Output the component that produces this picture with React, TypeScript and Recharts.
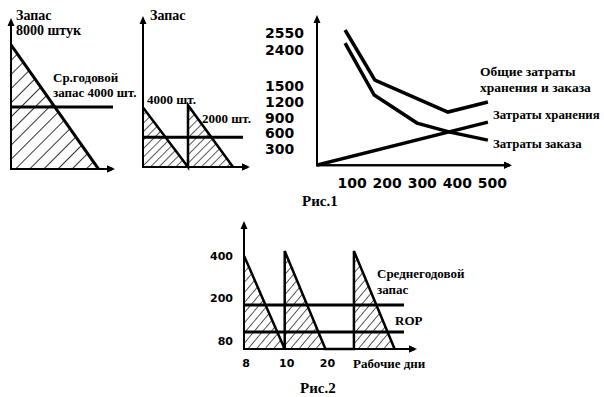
import React from 'react';
import { ComposedChart, Area, Line, XAxis, YAxis, ReferenceLine } from 'recharts';

// ---- Fig.1 left: one order of 8000 units ----
const stockA = [{ t: 0, q: 8000 }, { t: 6, q: 0 }];
const avgA = 4000;

// ---- Fig.1 middle: two orders of 4000 units ----
const stockB = [{ t: 0, q: 4000 }, { t: 3, q: 0 }, { t: 3, q: 4150 }, { t: 6, q: 0 }];
const avgB = 2000;

// ---- Fig.1 right: costs vs order size ----
const totalCost = [{ x: 80, y: 2554 }, { x: 165, y: 1608 }, { x: 373, y: 1003 }, { x: 487, y: 1192 }];
const orderCost = [{ x: 80, y: 2308 }, { x: 163, y: 1324 }, { x: 285, y: 795 }, { x: 379, y: 624 }, { x: 487, y: 473 }];
const holdCost = [{ x: 0, y: 0 }, { x: 487, y: 813 }];
const costTicks = [300, 600, 900, 1200, 1500, 2400, 2550];
const qtyTicks = [100, 200, 300, 400, 500];

// ---- Fig.2: stock over working days ----
const stockD = [
  { d: 0, q: 400 }, { d: 10, q: 0 }, { d: 10, q: 420 }, { d: 20, q: 0 },
  { d: 27, q: 0 }, { d: 27, q: 420 }, { d: 37, q: 0 },
];
const avgD = 189;
const ropD = 73;
const dayTicks = [0, 10, 20];
const dayLabels = ['8', '10', '20'];
const stockTicks = [80, 200, 400];

// axis extents (data units)
const axisA = [{ t: 0, q: 0 }, { t: 7, q: 0 }];
const axisB = [{ t: 0, q: 0 }, { t: 7, q: 0 }];
const axisC = [{ x: 0, y: 0 }, { x: 550, y: 0 }];
const axisD = [{ d: 0, q: 0 }, { d: 42, q: 0 }];

const BLACK = '#000';
const SANS = "'DejaVu Sans', sans-serif";
const SERIF = "'Liberation Serif', 'Times New Roman', serif";

const arrowHead = (x1: number, y1: number, x2: number, y2: number) => {
  const len = Math.hypot(x2 - x1, y2 - y1) || 1;
  const ux = (x2 - x1) / len;
  const uy = (y2 - y1) / len;
  const tx = x2 + ux * 2;
  const ty = y2 + uy * 2;
  const bx = tx - ux * 8;
  const by = ty - uy * 8;
  const px = -uy * 3.5;
  const py = ux * 3.5;
  return `${tx},${ty} ${bx + px},${by + py} ${bx - px},${by - py}`;
};

// both axes drawn from the vertical axis segment: origin (x1,y1), top (x2,y2)
const makeAxes = (xLen: number) => (p: any) => {
  const x1 = Number(p.x1);
  const y1 = Number(p.y1);
  const x2 = Number(p.x2);
  const y2 = Number(p.y2);
  const xe = x1 + xLen;
  return (
    <g>
      <polygon points={`${x1 - 1},${y1 + 1} ${x1 + 1},${y1 + 1} ${x2 + 1},${y2} ${x2 - 1},${y2}`} fill={BLACK} />
      <polygon points={arrowHead(x1, y1, x2, y2)} fill={BLACK} />
      <polygon points={`${x1 - 1},${y1 - 1} ${xe},${y1 - 1} ${xe},${y1 + 1} ${x1 - 1},${y1 + 1}`} fill={BLACK} />
      <polygon points={arrowHead(x1, y1, xe, y1)} fill={BLACK} />
    </g>
  );
};

const ArrowDot = (p: any) => {
  if (p.index !== 1) return <g key={`d${p.index}`} />;
  return <polygon key={`d${p.index}`} points={arrowHead(p.cx - 10, p.cy, p.cx, p.cy)} fill={BLACK} />;
};

const shiftC: Record<number, number> = { 2550: 3, 2400: 12 };
const CostTick = (props: any) => {
  const { y, payload } = props;
  return (
    <text x={5} y={y + (shiftC[payload.value] || 0)} dy="0.36em" textAnchor="start"
      fontFamily={SANS} fontWeight="bold" fontSize={14} fill={BLACK}>
      {payload.value}
    </text>
  );
};
const QtyTick = (props: any) => {
  const { x, y, payload } = props;
  return (
    <text x={x} y={y} dy={7} textAnchor="middle" fontFamily={SANS} fontWeight="bold" fontSize={14} fill={BLACK}>
      {payload.value}
    </text>
  );
};

const shiftD: Record<number, number> = { 80: 11, 200: -4 };
const StockTick = (props: any) => {
  const { x, y, payload } = props;
  return (
    <text x={x} y={y + (shiftD[payload.value] || 0)} dy="0.36em" textAnchor="end"
      fontFamily={SANS} fontWeight="bold" fontSize={11} fill={BLACK}>
      {payload.value}
    </text>
  );
};
const DayTick = (props: any) => {
  const { x, y, payload } = props;
  return (
    <text x={x + 2} y={y} dy="0.36em" textAnchor="middle" fontFamily={SANS} fontWeight="bold" fontSize={11} fill={BLACK}>
      {dayLabels[dayTicks.indexOf(payload.value)]}
    </text>
  );
};

const labels: { t: string; x: number; y: number; s: number }[] = [
  { t: 'Запас', x: 16, y: 15, s: 14 },
  { t: '8000 штук', x: 16, y: 30, s: 14 },
  { t: 'Ср.годовой', x: 53, y: 77, s: 13 },
  { t: 'запас 4000 шт.', x: 53, y: 92, s: 13 },
  { t: 'Запас', x: 150, y: 15, s: 14 },
  { t: '4000 шт.', x: 147, y: 99, s: 13 },
  { t: '2000 шт.', x: 202, y: 118, s: 13 },
  { t: 'Общие затраты', x: 480, y: 71, s: 13.5 },
  { t: 'хранения и заказа', x: 480, y: 87, s: 13.5 },
  { t: 'Затраты хранения', x: 493, y: 115, s: 12.8 },
  { t: 'Затраты заказа', x: 493, y: 144, s: 12.8 },
  { t: 'Рис.1', x: 302, y: 201, s: 15 },
  { t: 'Среднегодовой', x: 377, y: 273, s: 13 },
  { t: 'запас', x: 377, y: 289, s: 13 },
  { t: 'ROP', x: 395, y: 320, s: 13 },
  { t: 'Рабочие дни', x: 353, y: 363, s: 13 },
  { t: 'Рис.2', x: 300, y: 388, s: 15 },
];

const abs = (left: number, top: number): React.CSSProperties => ({ position: 'absolute', left, top });

export default function App() {
  return (
    <div style={{ position: 'absolute', left: 0, top: 0, width: 604, height: 397, background: '#fff', overflow: 'hidden' }}>
      <svg width={0} height={0} style={{ position: 'absolute' }}>
        <defs>
          <pattern id="hatchA" patternUnits="userSpaceOnUse" width="10" height="10" patternTransform="rotate(45)">
            <line x1="0" y1="0" x2="0" y2="10" stroke={BLACK} strokeWidth="1.6" />
          </pattern>
          <pattern id="hatchB" patternUnits="userSpaceOnUse" width="6" height="10" patternTransform="rotate(45)">
            <line x1="0" y1="0" x2="0" y2="10" stroke={BLACK} strokeWidth="1.3" />
          </pattern>
          <pattern id="hatchD" patternUnits="userSpaceOnUse" width="6.5" height="10" patternTransform="rotate(40)">
            <line x1="0" y1="0" x2="0" y2="10" stroke={BLACK} strokeWidth="1.3" />
          </pattern>
        </defs>
      </svg>

      {/* Fig.1 left */}
      <div style={abs(0, 0)}>
        <ComposedChart width={130} height={190} data={stockA} margin={{ top: 20, right: 17, bottom: 5.5, left: 11 }}>
          <XAxis type="number" dataKey="t" domain={[0, 7]} allowDataOverflow hide />
          <YAxis type="number" domain={[-1000, 9600]} allowDataOverflow hide />
          <Area type="linear" dataKey="q" baseValue={0} stroke={BLACK} strokeWidth={3} fill="url(#hatchA)" fillOpacity={1}
            isAnimationActive={false} dot={false} activeDot={false} />
          <Line data={axisA} dataKey="q" type="linear" stroke={BLACK} strokeWidth={2} dot={ArrowDot}
            activeDot={false} isAnimationActive={false} />
          <ReferenceLine segment={[{ x: 0, y: avgA }, { x: 7, y: avgA }]} stroke={BLACK} strokeWidth={3} />
          <ReferenceLine segment={[{ x: 0, y: 0 }, { x: 0, y: 9600 }]} shape={makeAxes(102)} />
        </ComposedChart>
      </div>

      {/* Fig.1 middle */}
      <div style={abs(130, 0)}>
        <ComposedChart width={130} height={190} data={stockB} margin={{ top: 18, right: 12, bottom: 8, left: 13 }}>
          <XAxis type="number" dataKey="t" domain={[0, 7]} allowDataOverflow hide />
          <YAxis type="number" domain={[-1000, 10000]} allowDataOverflow hide />
          <Area type="linear" dataKey="q" baseValue={0} stroke={BLACK} strokeWidth={2.5} fill="url(#hatchB)" fillOpacity={1}
            isAnimationActive={false} dot={false} activeDot={false} />
          <Line data={axisB} dataKey="q" type="linear" stroke={BLACK} strokeWidth={2} dot={ArrowDot}
            activeDot={false} isAnimationActive={false} />
          <ReferenceLine segment={[{ x: 0, y: avgB }, { x: 6.67, y: avgB }]} stroke={BLACK} strokeWidth={3} />
          <ReferenceLine segment={[{ x: 0, y: 0 }, { x: 0, y: 10000 }]} shape={makeAxes(105)} />
        </ComposedChart>
      </div>

      {/* Fig.1 right */}
      <div style={abs(260, 0)}>
        <ComposedChart width={344} height={200} margin={{ top: 17, right: 94, bottom: 0, left: 0 }}>
          <XAxis type="number" dataKey="x" domain={[0, 550]} allowDataOverflow ticks={qtyTicks} height={19} tickSize={0} tickMargin={0}
            tickLine={false} axisLine={false} tick={<QtyTick />} interval={0} />
          <YAxis type="number" dataKey="y" domain={[-300, 2800]} allowDataOverflow ticks={costTicks} width={57} tickSize={0}
            tickLine={false} axisLine={false} tick={<CostTick />} interval={0} />
          <Line data={totalCost} dataKey="y" type="linear" stroke={BLACK} strokeWidth={3.5} dot={false}
            activeDot={false} isAnimationActive={false} />
          <Line data={orderCost} dataKey="y" type="linear" stroke={BLACK} strokeWidth={3.5} dot={false}
            activeDot={false} isAnimationActive={false} />
          <Line data={holdCost} dataKey="y" type="linear" stroke={BLACK} strokeWidth={3.5} dot={false}
            activeDot={false} isAnimationActive={false} />
          <Line data={axisC} dataKey="y" type="linear" stroke={BLACK} strokeWidth={2} dot={ArrowDot}
            activeDot={false} isAnimationActive={false} />
          <ReferenceLine segment={[{ x: 0, y: 0 }, { x: 0, y: 2800 }]} shape={makeAxes(193)} />
        </ComposedChart>
      </div>

      {/* Fig.2 */}
      <div style={abs(190, 215)}>
        <ComposedChart width={240} height={160} data={stockD} margin={{ top: 8, right: 15, bottom: 0, left: 0 }}>
          <XAxis type="number" dataKey="d" domain={[0, 42]} allowDataOverflow ticks={dayTicks} height={12} tickSize={0} tickMargin={0}
            tickLine={false} axisLine={false} tick={<DayTick />} interval={0} />
          <YAxis type="number" domain={[-60, 540]} allowDataOverflow ticks={stockTicks} width={54} tickSize={0} tickMargin={11}
            tickLine={false} axisLine={false} tick={<StockTick />} interval={0} />
          <Area type="linear" dataKey="q" baseValue={0} stroke={BLACK} strokeWidth={2.5} fill="url(#hatchD)" fillOpacity={1}
            isAnimationActive={false} dot={false} activeDot={false} />
          <Line data={axisD} dataKey="q" type="linear" stroke={BLACK} strokeWidth={2} dot={ArrowDot}
            activeDot={false} isAnimationActive={false} />
          <ReferenceLine segment={[{ x: 0, y: avgD }, { x: 39.3, y: avgD }]} stroke={BLACK} strokeWidth={3} />
          <ReferenceLine segment={[{ x: 0, y: ropD }, { x: 39.3, y: ropD }]} stroke={BLACK} strokeWidth={3} />
          <ReferenceLine segment={[{ x: 0, y: 0 }, { x: 0, y: 540 }]} shape={makeAxes(171)} />
        </ComposedChart>
      </div>

      <svg width={604} height={397} style={{ position: 'absolute', left: 0, top: 0, pointerEvents: 'none' }}>
        {labels.map((l, i) => (
          <text key={i} x={l.x} y={l.y + l.s * 0.35} fontFamily={SERIF} fontWeight="bold" fontSize={l.s} fill={BLACK}>
            {l.t}
          </text>
        ))}
      </svg>
    </div>
  );
}
